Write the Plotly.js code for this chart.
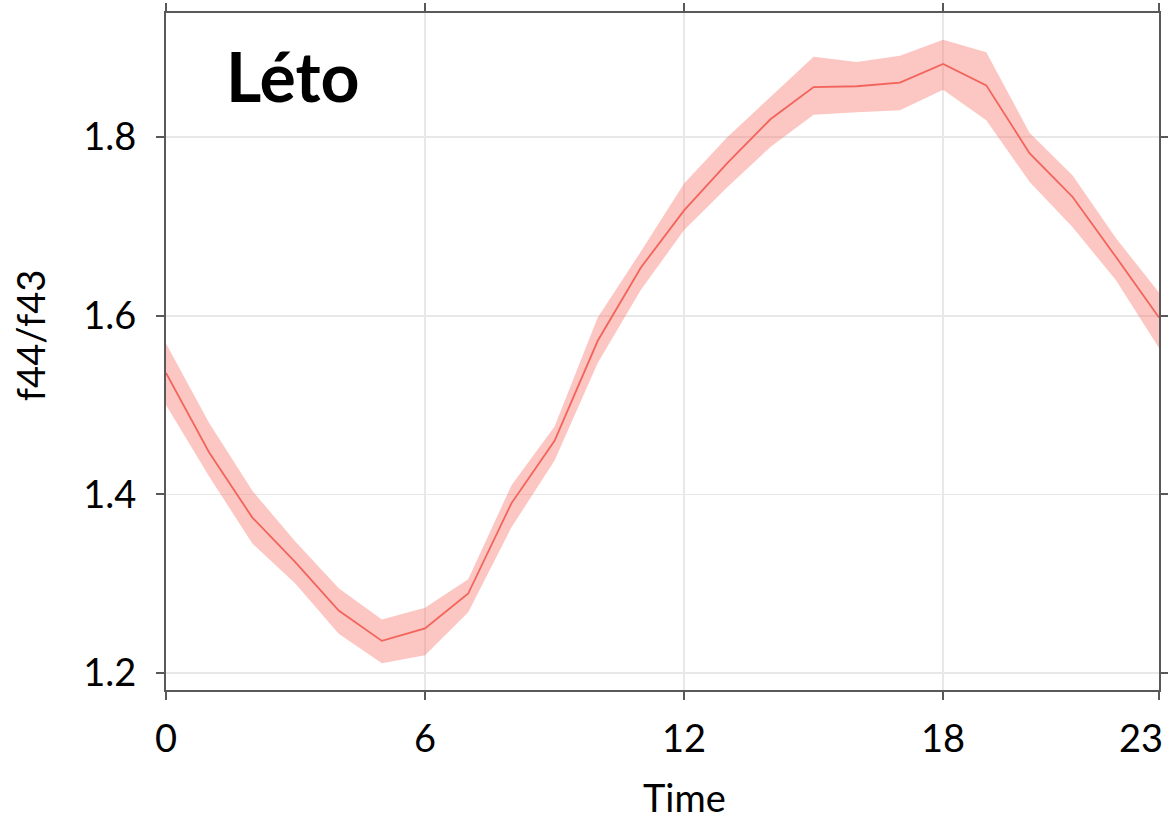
<!DOCTYPE html>
<html>
<head>
<meta charset="utf-8">
<script src="https://cdn.plot.ly/plotly-3.0.1.min.js"></script>
<style>
  html, body { margin: 0; padding: 0; background: #ffffff; }
  #chart { width: 1168px; height: 822px; }
</style>
</head>
<body>
<div id="chart"></div>
<script>
// Hour of day
const hours = [0, 1, 2, 3, 4, 5, 6, 7, 8, 9, 10, 11, 12, 13, 14, 15, 16, 17, 18, 19, 20, 21, 22, 23];
// Mean f44/f43 ratio per hour
const ratioMean = [1.536, 1.447, 1.374, 1.324, 1.270, 1.236, 1.250, 1.289, 1.390, 1.460, 1.572, 1.654,
                   1.718, 1.771, 1.820, 1.856, 1.857, 1.861, 1.882, 1.858, 1.782, 1.733, 1.666, 1.598];
// Upper and lower bounds of the confidence band
const ratioUpper = [1.569, 1.480, 1.404, 1.347, 1.295, 1.260, 1.273, 1.305, 1.410, 1.476, 1.598, 1.672,
                    1.748, 1.800, 1.845, 1.890, 1.884, 1.891, 1.909, 1.895, 1.805, 1.757, 1.687, 1.626];
const ratioLower = [1.500, 1.420, 1.345, 1.300, 1.244, 1.211, 1.220, 1.268, 1.363, 1.438, 1.547, 1.629,
                    1.696, 1.744, 1.789, 1.825, 1.828, 1.830, 1.853, 1.819, 1.750, 1.699, 1.640, 1.564];
const xTicks = [0, 6, 12, 18, 23];
const yTicks = [1.2, 1.4, 1.6, 1.8];
const seasonLabel = 'Léto';
const xTitle = 'Time';
const yTitle = 'f44/f43';

const FONT = 'Lato, "Open Sans", sans-serif';
const AXIS = '#595959';
const lastHour = xTicks[xTicks.length - 1];

const traces = [
  {
    x: hours, y: ratioLower, type: 'scatter', mode: 'lines',
    line: { width: 0, color: 'rgba(0,0,0,0)' }, hoverinfo: 'skip', showlegend: false
  },
  {
    x: hours, y: ratioUpper, type: 'scatter', mode: 'lines', fill: 'tonexty',
    fillcolor: 'rgba(248,118,109,0.42)',
    line: { width: 0, color: 'rgba(0,0,0,0)' }, hoverinfo: 'skip', showlegend: false
  },
  {
    x: hours, y: ratioMean, type: 'scatter', mode: 'lines',
    line: { color: '#F2645B', width: 1.8 }, showlegend: false
  }
];

const axisCommon = {
  showline: true, linecolor: AXIS, linewidth: 2,
  mirror: 'ticks', ticks: 'outside', ticklen: 8, tickwidth: 2, tickcolor: AXIS,
  showgrid: true, gridcolor: '#e8e8e8', gridwidth: 1.5,
  zeroline: false,
  tickfont: { family: FONT, size: 38, color: '#000000' }
};

const layout = {
  width: 1168, height: 822,
  margin: { l: 166, r: 9, t: 13, b: 132 },
  paper_bgcolor: '#ffffff', plot_bgcolor: '#ffffff',
  xaxis: Object.assign({}, axisCommon, {
    range: [0, 23], tickmode: 'array', tickvals: xTicks,
    // the last hour label sits flush against the right edge, drawn below
    ticktext: xTicks.map(v => v === lastHour ? '' : String(v)),
    ticklabelstandoff: 6
  }),
  yaxis: Object.assign({}, axisCommon, {
    range: [1.181, 1.939], tickmode: 'array', tickvals: yTicks, ticktext: yTicks.map(v => v.toFixed(1)),
    ticklabelstandoff: 12
  }),
  annotations: [
    {
      text: String(lastHour), xref: 'x', yref: 'paper', x: lastHour, y: 0,
      xanchor: 'right', yanchor: 'top', xshift: 6, yshift: -22, showarrow: false,
      font: { family: FONT, size: 38, color: '#000000' }
    },
    {
      text: '<b>' + seasonLabel + '</b>', xref: 'paper', yref: 'paper',
      x: 0.0585, y: 0.908, xanchor: 'left', yanchor: 'middle', showarrow: false,
      font: { family: FONT, size: 68, color: '#000000' }
    },
    {
      text: xTitle, xref: 'paper', yref: 'paper',
      x: 0.5217, y: -0.122, xanchor: 'center', yanchor: 'top', showarrow: false,
      borderpad: 0,
      font: { family: FONT, size: 38, color: '#000000' }
    },
    {
      text: yTitle, xref: 'paper', yref: 'paper', textangle: -90,
      x: -0.137, y: 0.524, xanchor: 'center', yanchor: 'middle', showarrow: false,
      font: { family: FONT, size: 38, color: '#000000' }
    }
  ]
};

Plotly.newPlot('chart', traces, layout, { staticPlot: true, displayModeBar: false });
</script>
</body>
</html>
